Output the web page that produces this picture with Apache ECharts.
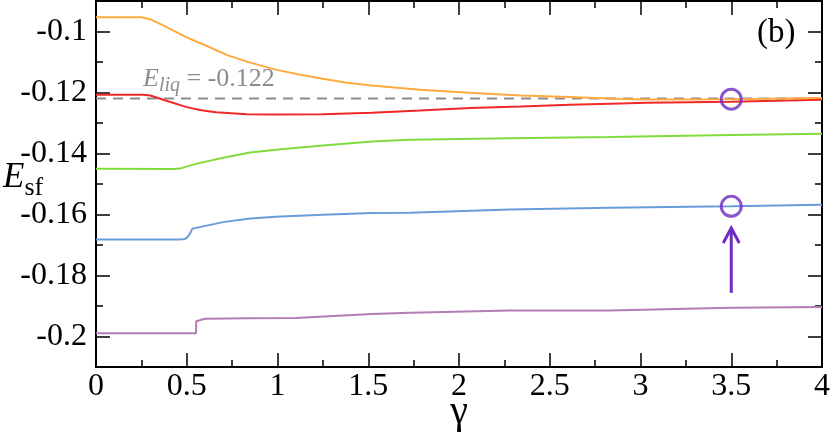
<!DOCTYPE html>
<html>
<head>
<meta charset="utf-8">
<script src="https://cdn.jsdelivr.net/npm/echarts@6/dist/echarts.min.js"></script>
<style>
  html, body { margin: 0; padding: 0; background: #fff; }
</style>
</head>
<body>
<div id="myc" style="width: 830px; height: 433px"></div>
<script>
// reference energy of the liquid
var E_LIQ = -0.122;

// curves, [gamma, E_sf]
var orangeData = [[0, -0.0953], [0.25, -0.0953], [0.30, -0.0960], [0.37, -0.0980], [0.50, -0.1019], [0.62, -0.1050], [0.73, -0.1079], [0.85, -0.1102], [0.99, -0.1125], [1.12, -0.1141], [1.25, -0.1155], [1.38, -0.1168], [1.52, -0.1177], [1.785, -0.1191], [2.06, -0.1201], [2.34, -0.1210], [2.61, -0.1215], [2.89, -0.1221], [3.03, -0.1223], [3.5, -0.1222], [4, -0.1218]];
var redData = [[0, -0.1207], [0.26, -0.1207], [0.30, -0.1210], [0.37, -0.1224], [0.50, -0.1248], [0.58, -0.1258], [0.66, -0.1265], [0.83, -0.1271], [0.99, -0.1272], [1.25, -0.1271], [1.52, -0.1266], [1.785, -0.1259], [2.06, -0.1251], [2.34, -0.1246], [2.61, -0.1240], [2.89, -0.1236], [3.03, -0.1234], [3.5, -0.1230], [4, -0.1224]];
var greenData = [[0, -0.1450], [0.43, -0.1451], [0.47, -0.1448], [0.55, -0.1434], [0.70, -0.1414], [0.85, -0.1397], [0.99, -0.1388], [1.25, -0.1374], [1.52, -0.1361], [1.73, -0.1355], [2.28, -0.1350], [2.83, -0.1346], [3.5, -0.1339], [4, -0.1335]];
var blueData = [[0, -0.1682], [0.46, -0.1682], [0.49, -0.1680], [0.505, -0.1674], [0.52, -0.1660], [0.53, -0.1647], [0.59, -0.1639], [0.70, -0.1625], [0.85, -0.1613], [0.99, -0.1607], [1.25, -0.1601], [1.52, -0.1595], [1.73, -0.1594], [2.28, -0.1584], [2.83, -0.1578], [3.5, -0.1573], [4, -0.1568]];
var mauveData = [[0, -0.1989], [0.551, -0.1989], [0.552, -0.1950], [0.60, -0.1942], [0.83, -0.1940], [1.10, -0.1939], [1.52, -0.1926], [1.73, -0.1922], [2.28, -0.1915], [2.83, -0.1915], [3.5, -0.1906], [4, -0.1903]];

// highlighted points and arrow [gamma, from, to]
var circleData = [[3.5, -0.1222], [3.5, -0.1573]];
var arrowData = [[3.5, -0.1857, -0.1644]];

// tick labels
var yLabelValues = [-0.2, -0.18, -0.16, -0.14, -0.12, -0.1];

var serif = "Liberation Serif";
var black = "#000";
var tickRich = { t: { fontFamily: serif, fontSize: 32, color: black } };

var myChart = echarts.init(document.getElementById("myc"));
var option = {
  animation: false,
  grid: { left: 96, right: 8, top: 1, bottom: 66, containLabel: false, outerBoundsMode: "none" },
  xAxis: [
    {
      type: "value", position: "bottom", min: 0, max: 4, interval: 0.5,
      name: "γ", nameLocation: "middle", nameGap: 25, nameMoveOverlap: false,
      nameTextStyle: { fontFamily: serif, fontSize: 40, color: black },
      axisLine: { show: true, lineStyle: { color: black, width: 2 } },
      axisTick: { inside: true, length: 14, lineStyle: { color: black, width: 1.5 } },
      minorTick: { show: true, splitNumber: 2, length: 7, lineStyle: { color: black, width: 1.5 } },
      axisLabel: {
        margin: 4, color: black, fontFamily: serif, fontSize: 32, rich: tickRich,
        formatter: function (v) { return "{t|" + v + "}"; }
      },
      splitLine: { show: false }
    },
    {
      type: "value", position: "top", min: 0, max: 4, interval: 0.5,
      axisLine: { show: true, lineStyle: { color: black, width: 2 } },
      axisTick: { inside: true, length: 14, lineStyle: { color: black, width: 1.5 } },
      minorTick: { show: true, splitNumber: 2, length: 7, lineStyle: { color: black, width: 1.5 } },
      axisLabel: { show: false },
      splitLine: { show: false }
    }
  ],
  yAxis: [
    {
      type: "value", position: "left", min: -0.21, max: -0.09, interval: 0.01,
      axisLine: { show: true, lineStyle: { color: black, width: 2 } },
      axisTick: { inside: true, length: 7, lineStyle: { color: black, width: 1.5 } },
      axisLabel: {
        margin: 9, color: black, fontFamily: serif, fontSize: 32, rich: tickRich,
        formatter: function (v) {
          var r = Math.round(v * 100);
          return r % 2 === 0 ? "{t|" + (r / 100) + "}" : "";
        }
      },
      splitLine: { show: false }
    },
    {
      type: "value", position: "left", min: -0.21, max: -0.09,
      axisLine: { show: false },
      axisTick: { inside: true, length: 14, customValues: yLabelValues, lineStyle: { color: black, width: 1.5 } },
      axisLabel: { show: false },
      splitLine: { show: false }
    },
    {
      type: "value", position: "right", min: -0.21, max: -0.09, interval: 0.01,
      axisLine: { show: true, lineStyle: { color: black, width: 2 } },
      axisTick: { inside: true, length: 7, lineStyle: { color: black, width: 1.5 } },
      axisLabel: { show: false },
      splitLine: { show: false }
    },
    {
      type: "value", position: "right", min: -0.21, max: -0.09,
      axisLine: { show: false },
      axisTick: { inside: true, length: 14, customValues: yLabelValues, lineStyle: { color: black, width: 1.5 } },
      axisLabel: { show: false },
      splitLine: { show: false }
    }
  ],
  graphic: [
    {
      type: "text", left: 3, top: 160,
      style: {
        text: "{e|E}{s|sf}",
        rich: {
          e: { fontFamily: serif, fontStyle: "italic", fontSize: 35, fill: black },
          s: { fontFamily: serif, fontSize: 26, fill: black, padding: [22, 0, 0, 0] }
        }
      }
    },
    {
      type: "text", left: 757, top: 17,
      style: { text: "(b)", fontFamily: serif, fontSize: 33, fill: black }
    },
    {
      type: "text", left: 143, top: 66,
      style: {
        text: "{e|E}{l|liq}{t| = -0.122}",
        rich: {
          e: { fontFamily: serif, fontStyle: "italic", fontSize: 26, fill: "#8c8c8c" },
          l: { fontFamily: serif, fontStyle: "italic", fontSize: 20, fill: "#8c8c8c", padding: [14, 0, 0, 0] },
          t: { fontFamily: serif, fontSize: 26, fill: "#8c8c8c" }
        }
      }
    }
  ],
  series: [
    {
      type: "line", data: [[0, E_LIQ], [4, E_LIQ]], symbol: "none",
      lineStyle: { color: "#8c8c8c", width: 2, type: [10, 7] }, z: 2
    },
    { type: "line", data: mauveData, symbol: "none", lineStyle: { color: "#b47cb4", width: 2 }, z: 3 },
    { type: "line", data: blueData, symbol: "none", lineStyle: { color: "#6a9cdc", width: 2 }, z: 3 },
    { type: "line", data: greenData, symbol: "none", lineStyle: { color: "#80dc3c", width: 2 }, z: 3 },
    { type: "line", data: redData, symbol: "none", lineStyle: { color: "#f02828", width: 2 }, z: 3 },
    { type: "line", data: orangeData, symbol: "none", lineStyle: { color: "#ffaa40", width: 2 }, z: 3 },
    {
      type: "scatter", data: circleData, symbol: "circle", symbolSize: 20,
      itemStyle: { color: "rgba(0,0,0,0)", borderColor: "#6f2bc4", borderWidth: 3 }, z: 5
    },
    {
      type: "custom", data: arrowData, z: 5,
      renderItem: function (params, api) {
        var base = api.coord([api.value(0), api.value(1)]);
        var tip = api.coord([api.value(0), api.value(2)]);
        var st = { stroke: "#6f2bc4", lineWidth: 3, fill: null };
        return {
          type: "group",
          children: [
            { type: "polyline", shape: { points: [base, tip] }, style: st },
            { type: "polyline", shape: { points: [[tip[0] - 8, tip[1] + 15], tip, [tip[0] + 8, tip[1] + 15]] }, style: st }
          ]
        };
      }
    }
  ]
};
myChart.setOption(option);
</script>
</body>
</html>
